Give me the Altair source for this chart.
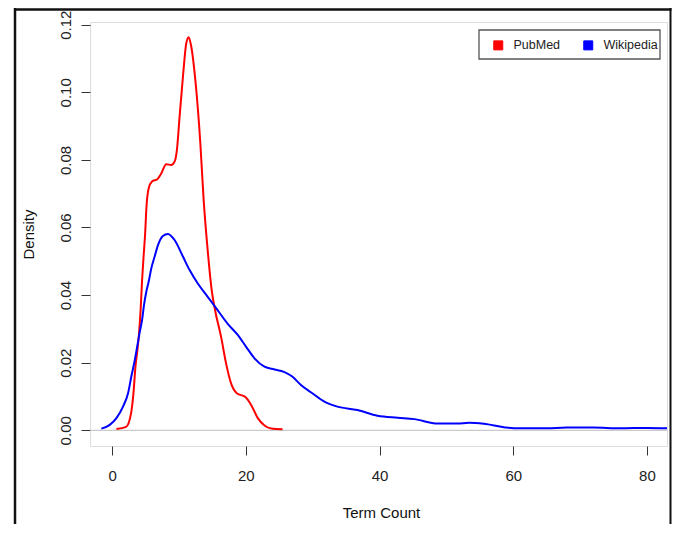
import altair as alt
import pandas as pd

# ---- data ----
series_names = ["PubMed", "Wikipedia"]
series_colors = ["#ff0000", "#0000ff"]

pubmed_x = [0.65, 2.1, 2.84, 3.2, 3.5, 3.78, 4.03, 4.28, 4.48, 4.7, 4.95, 5.15,
            5.48, 5.97, 6.77, 7.36, 8.1, 8.85, 9.35, 9.7, 10.1, 10.6, 11.1, 11.45,
            11.8, 12.5, 13.2, 13.7, 14.3, 14.9, 15.4, 16.3, 17.05, 17.8, 18.7,
            19.9, 20.8, 21.8, 22.8, 23.8, 25.5]
pubmed_y = [0.0004, 0.001, 0.005, 0.011, 0.0188, 0.0235, 0.0285, 0.036, 0.044,
            0.051, 0.0583, 0.0662, 0.0716, 0.0736, 0.0743, 0.076, 0.0787, 0.0785,
            0.0795, 0.083, 0.0928, 0.1046, 0.1145, 0.1163, 0.114, 0.1027, 0.085,
            0.0681, 0.0533, 0.0415, 0.0356, 0.0277, 0.0198, 0.0139, 0.0109,
            0.0099, 0.0075, 0.0036, 0.0014, 0.0005, 0.0003]

wiki_x = [-1.6, -0.35, 0.65, 1.64, 2.4, 2.88, 3.4, 3.78, 4.13, 4.48, 4.78, 5.12,
          5.48, 5.87, 6.37, 6.87, 7.6, 8.36, 9.35, 10.6, 11.6, 12.8, 14.3, 15.4,
          17.3, 18.8, 20.05, 21.3, 22.8, 24.3, 25.7, 26.95, 28.25, 30.0, 31.75,
          33.7, 36.7, 39.7, 42.7, 45.2, 48.7, 51.6, 53.4, 55.6, 58.6, 60.1, 65.0,
          68.0, 72.0, 76.0, 80.0, 83.0]
wiki_y = [0.0005, 0.0016, 0.0036, 0.007, 0.011, 0.0159, 0.0208, 0.025, 0.029,
          0.0325, 0.0371, 0.041, 0.044, 0.0479, 0.0514, 0.0548, 0.0575, 0.0581,
          0.0563, 0.0514, 0.0474, 0.0435, 0.0395, 0.0366, 0.0315, 0.0282, 0.0247,
          0.0213, 0.0188, 0.018, 0.0173, 0.0159, 0.0134, 0.0109, 0.0085, 0.007,
          0.006, 0.0043, 0.0037, 0.0033, 0.002, 0.002, 0.0022, 0.0019, 0.0009,
          0.0006, 0.0006, 0.0008, 0.0008, 0.0006, 0.0007, 0.0006]

x_ticks = [0, 20, 40, 60, 80]
y_ticks = [0.0, 0.02, 0.04, 0.06, 0.08, 0.10, 0.12]
x_domain = [-3.3, 83.0]
y_domain = [-0.00465, 0.1208]

df = pd.concat([
    pd.DataFrame({"term": pubmed_x, "density": pubmed_y, "source": "PubMed"}),
    pd.DataFrame({"term": wiki_x, "density": wiki_y, "source": "Wikipedia"}),
], ignore_index=True)

FONT = "Liberation Sans"

xscale = alt.Scale(domain=x_domain, nice=False, zero=False)
yscale = alt.Scale(domain=y_domain, nice=False, zero=False)
cscale = alt.Scale(domain=series_names, range=series_colors)

x_axis = alt.Axis(values=x_ticks, title="Term Count", grid=False, domain=False,
                  tickSize=9, tickColor="#333", labelFont=FONT, labelFontSize=15,
                  labelColor="#222", labelBaseline="alphabetic", labelPadding=25,
                  labelFlush=False, titleFont=FONT, titleFontSize=15,
                  titleFontWeight="normal", titleColor="#111", titleX=291,
                  titleY=71, titleBaseline="alphabetic", titleAlign="center")
y_axis = alt.Axis(values=y_ticks, format=".2f", title="Density", grid=False,
                  domain=False, tickSize=9, tickColor="#333", labelFont=FONT,
                  labelFontSize=15, labelColor="#222", labelAngle=270,
                  labelAlign="center", labelBaseline="alphabetic",
                  labelPadding=11, labelFlush=False, titleFont=FONT,
                  titleFontSize=15, titleFontWeight="normal", titleColor="#111",
                  titleAngle=270, titleX=-57, titleY=212,
                  titleBaseline="alphabetic", titleAlign="center")

one = pd.DataFrame({"a": [0]})

# outer frame of the figure
frame_left = alt.Chart(one).mark_rule(color="#111", strokeWidth=2.5).encode(
    x=alt.value(-75), y=alt.value(-14), y2=alt.value(502))
frame_top = alt.Chart(one).mark_rule(color="#111", strokeWidth=2.5).encode(
    x=alt.value(-76), x2=alt.value(581.5), y=alt.value(-12.6))
frame_right = alt.Chart(one).mark_rule(color="#111", strokeWidth=2).encode(
    x=alt.value(580.5), y=alt.value(-14), y2=alt.value(502))

# legend box (outline only)
legend_box = alt.Chart(one).mark_rect(fill="transparent", stroke="#555",
                                      strokeWidth=1.3).encode(
    x=alt.value(389), x2=alt.value(570), y=alt.value(8), y2=alt.value(37))

zero_line = alt.Chart(one).mark_rule(color="#bdbdbd", strokeWidth=1).encode(
    y=alt.datum(0, scale=yscale))

# invisible points (size 0) that only carry the filled-square legend
legend_layer = alt.Chart(df).mark_square(
    filled=True, size=0, opacity=1, stroke="black", strokeWidth=1
).encode(
    x=alt.X("term:Q", scale=xscale, axis=x_axis),
    y=alt.Y("density:Q", scale=yscale, axis=y_axis),
    color=alt.Color("source:N", scale=cscale, legend=alt.Legend(
        title=None, orient="none", legendX=402, legendY=17, zindex=1,
        direction="horizontal", symbolType="square", symbolSize=81,
        symbolStrokeColor="black", symbolStrokeWidth=1, symbolOpacity=1,
        labelFont=FONT, labelFontSize=12.5, labelColor="#222", labelOffset=9,
        columnPadding=20, padding=0)),
)

lines = alt.Chart(df).mark_line(strokeWidth=2, interpolate="monotone",
                                clip=True).encode(
    x=alt.X("term:Q", scale=xscale, axis=x_axis),
    y=alt.Y("density:Q", scale=yscale, axis=y_axis),
    color=alt.Color("source:N", scale=cscale, legend=None),
    detail="source:N",
)

chart = alt.layer(
    legend_layer, frame_left, frame_top, frame_right, zero_line, lines, legend_box
).properties(
    width=577, height=424,
    autosize=alt.AutoSizeParams(type="none"),
    padding={"left": 82, "top": 14, "right": 5, "bottom": 78},
).configure_view(stroke="#444", strokeWidth=1.3).configure(background="white")

chart.save("out.html", embed_options={"renderer": "svg", "actions": False})
